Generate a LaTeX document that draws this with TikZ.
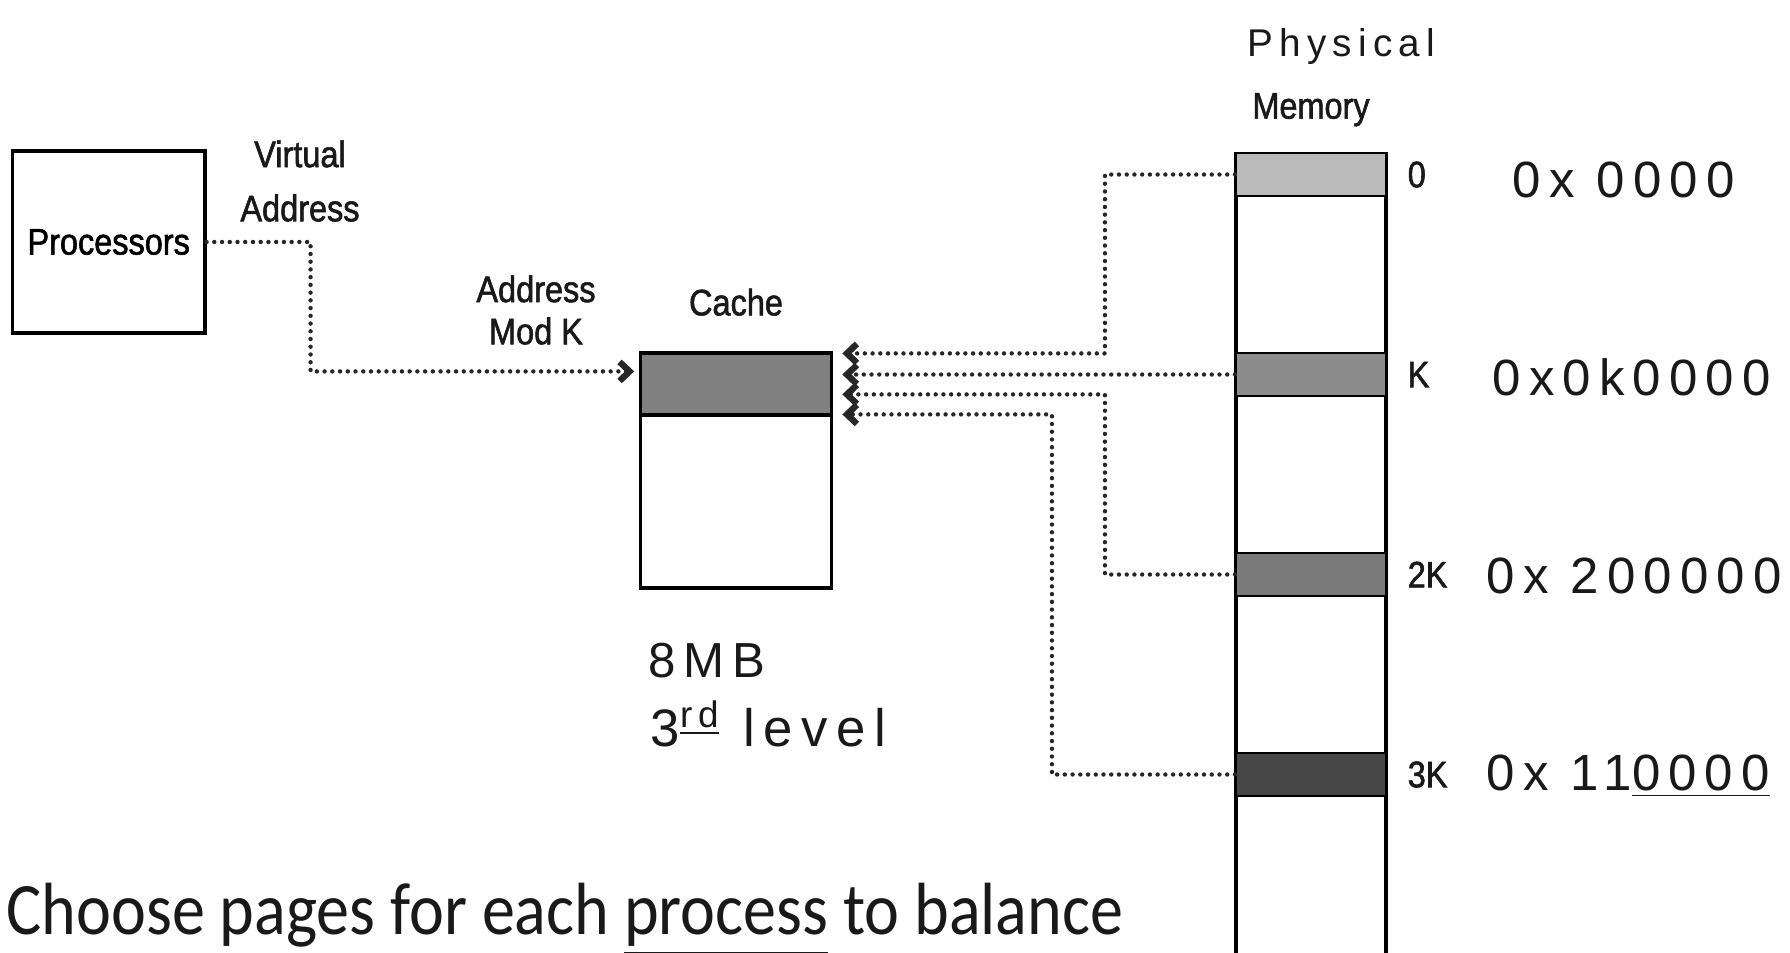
\documentclass[tikz,border=0pt]{standalone}
\usepackage{fontspec}
\usepackage{xcolor}
\usepackage{graphicx}
\usepackage{tikz}
\usetikzlibrary{positioning, arrows.meta, calc}
\newfontfamily\narrowfont[FakeStretch=0.88,FakeBold=1.5]{Liberation Sans}
\newfontfamily\handfont[LetterSpace=16]{Liberation Sans}
\newfontfamily\slidefont{Carlito}

\begin{document}
\begin{tikzpicture}[x=0.1mm, y=-0.1mm, node distance=3mm,
  >={Straight Barb[length=1mm,width=1.9mm,line width=1.8pt]},
  lbl/.style={inner sep=0pt,align=center,text=black!90,font=\narrowfont\fontsize{10.5}{12}\selectfont},
  hand/.style={inner sep=0pt,anchor=west,text=black!90,font=\handfont\fontsize{14.5}{16}\selectfont},
  procbox/.style={draw,line width=0.9pt,minimum width=19.26mm,minimum height=18.2mm,inner sep=0pt,font=\narrowfont\fontsize{10.5}{12}\selectfont},
  cachebox/.style={draw,line width=0.9pt,minimum width=19.15mm,minimum height=23.5mm,inner sep=0pt},
  cband/.style={draw,line width=0.9pt,fill=black!50,minimum width=19.15mm,minimum height=6.2mm,inner sep=0pt},
  membox/.style={draw,line width=0.9pt,minimum width=15mm,minimum height=85mm,inner sep=0pt},
  band/.style={draw,line width=0.6pt,minimum width=15mm,minimum height=4.3mm,inner sep=0pt},
  link/.style={->,line width=1.25pt,line cap=round,dash pattern=on 0pt off 2.2pt,draw=black!85,shorten >=0.9mm}]
  \useasboundingbox (0,0) rectangle (1790,953);
  \fill[white] (0,0) rectangle (1790,953);

  % processor side
  \node[procbox] (proc) at (108.7,242) {Processors};
  \node[lbl] (va) at (300,181) {Virtual\\[3.4pt]Address};

  % cache
  \node[cachebox] (cache) at (736,470.5) {};
  \node[cband, anchor=north] (cline) at (cache.north) {};
  \node[lbl, above=3.5mm of cache] (clbl) {Cache};
  \node[lbl] (amk) at (536,310) {Address\\Mod K};
  \node[hand, font=\handfont\fontsize{14}{16}\selectfont] (mb) at (648,661) {8MB};
  \node[hand, font=\handfont\fontsize{15}{17}\selectfont] (lvl) at (650,724) {3\textsuperscript{\underline{rd}} level};

  % physical memory
  \node[membox, anchor=north] (mem) at (1311,152) {};
  \node[band, fill=black!27, anchor=north] (m0) at (mem.north) {};
  \node[band, fill=black!45, anchor=north] (m1) at ([yshift=-20mm]mem.north) {};
  \node[band, fill=black!52, anchor=north] (m2) at ([yshift=-40mm]mem.north) {};
  \node[band, fill=black!72, anchor=north] (m3) at ([yshift=-60mm]mem.north) {};
  \node[lbl, above=2.5mm of mem] (mlbl) {Memory};
  \node[hand, font=\handfont\fontsize{11}{13}\selectfont] (phys) at (1247,47) {Physical};

  \node[lbl, right=2mm of m0] (l0) {0};
  \node[lbl, right=2mm of m1] (l1) {K};
  \node[lbl, right=2mm of m2] (l2) {2K};
  \node[lbl, right=2mm of m3] (l3) {3K};
  \node[hand] (h0) at (1512,180) {0x 0000};
  \node[hand] (h1) at (1492,377) {0x0k0000};
  \node[hand] (h2) at (1486,576) {0x 200000};
  \node[hand] (h3) at (1486,776) {0x 11\underline{0000}};

  \node[anchor=base west, inner sep=0pt, text=black!90, font=\slidefont\fontsize{18.8}{22}\selectfont] (note) at (6,935) {\scalebox{1}[1.12]{Choose pages for each \underline{process} to balance}};

  % connectors
  \draw[link, shorten >=0.45mm] (proc.east) -- ++(10.4mm,0) |- ([yshift=-2mm]cache.north west);
  \draw[link] (m0.west) -- ++(-13mm,0) |- ([yshift=-0.2mm]cache.north east);
  \draw[link] (m1.west) -- (cache.east |- m1.west);
  \draw[link] (m2.west) -- ++(-13mm,0) |- ([yshift=-4.3mm]cache.north east);
  \draw[link] (m3.west) -- ++(-18.3mm,0) |- ([yshift=-6.3mm]cache.north east);
\end{tikzpicture}
\end{document}
